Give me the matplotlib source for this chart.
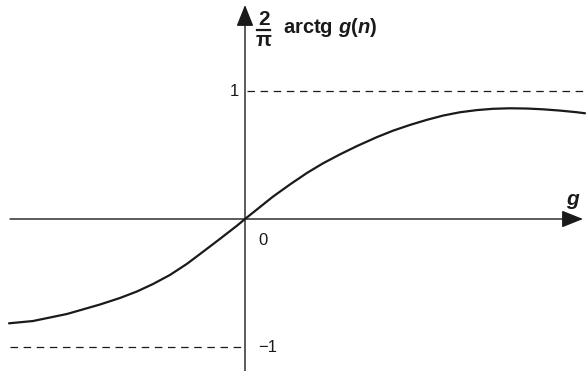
import matplotlib.pyplot as plt
import numpy as np

plt.rcParams['font.family'] = 'Liberation Sans'
plt.rcParams['mathtext.fontset'] = 'custom'
plt.rcParams['mathtext.rm'] = 'Liberation Sans:bold'
plt.rcParams['mathtext.bf'] = 'Liberation Sans:bold'
plt.rcParams['mathtext.it'] = 'Liberation Sans:italic:bold'

# curve values read at points along g
g_vals = [-2.36, -2.12, -1.78, -1.45, -1.25, -1.08, -0.92, -0.75, -0.58, -0.42,
          -0.25, -0.08, 0.0, 0.12, 0.28, 0.45, 0.62, 0.78, 0.95, 1.12, 1.32,
          1.48, 1.65, 1.82, 1.98, 2.15, 2.32, 2.48, 2.65, 2.82, 2.98, 3.15,
          3.32, 3.40]
f_vals = [-0.815, -0.797, -0.742, -0.668, -0.617, -0.566, -0.508, -0.437, -0.350,
          -0.256, -0.155, -0.052, 0.0, 0.075, 0.175, 0.270, 0.360, 0.435, 0.505,
          0.570, 0.640, 0.690, 0.735, 0.775, 0.808, 0.834, 0.851, 0.861, 0.865,
          0.863, 0.857, 0.847, 0.834, 0.826]
y_ticks = [1, -1]
y_tick_labels = ['1', '\u22121']

ink = '#1a1a1a'

fig = plt.figure(figsize=(5.86, 3.71), dpi=100)
ax = fig.add_axes([0, 0, 1, 1])
ax.set_xlim(-2.45, 3.41)
ax.set_ylim(-1.1875, 1.711)
ax.axis('off')

# axes with arrow heads
arrow = dict(arrowstyle='-|>,head_length=0.55,head_width=0.22', mutation_scale=24,
             lw=1.0, color=ink, shrinkA=0, shrinkB=0)
ax.annotate('', xy=(3.38, 0), xytext=(-2.35, 0), arrowprops=arrow)
ax.annotate('', xy=(0, 1.672), xytext=(0, -1.1875), arrowprops=arrow)

# asymptote levels
ax.plot([0.02, 3.41], [y_ticks[0]] * 2, color=ink, lw=0.9, dashes=(6, 4.5))
ax.plot([-2.35, -0.02], [y_ticks[1]] * 2, color=ink, lw=0.9, dashes=(6, 4.5))

ax.plot(g_vals, f_vals, color=ink, lw=1.6, solid_capstyle='round',
        solid_joinstyle='round')

ax.text(-0.06, y_ticks[0], y_tick_labels[0], ha='right', va='center', fontsize=12, color=ink)
ax.text(0.13, y_ticks[1], y_tick_labels[1], ha='left', va='center', fontsize=12, color=ink)
ax.text(0.13, -0.17, '0', ha='left', va='center', fontsize=12, color=ink)
ax.text(3.27, 0.15, 'g', ha='center', va='center', fontsize=15, color=ink,
        fontweight='bold', fontstyle='italic')

# y axis label: 2/pi arctg g(n)
ax.text(0.19, 1.555, '2', ha='center', va='center', fontsize=15, fontweight='bold', color=ink)
ax.plot([0.12, 0.25], [1.475, 1.475], color=ink, lw=1.6)
ax.text(0.19, 1.395, '\u03c0', ha='center', va='center', fontsize=15, fontweight='bold', color=ink)
ax.text(0.38, 1.45, r'$\mathrm{arctg}\ g\mathrm{(}n\mathrm{)}$', ha='left', va='baseline',
        fontsize=14.5, color=ink)

fig.savefig('out.png', dpi=100)
